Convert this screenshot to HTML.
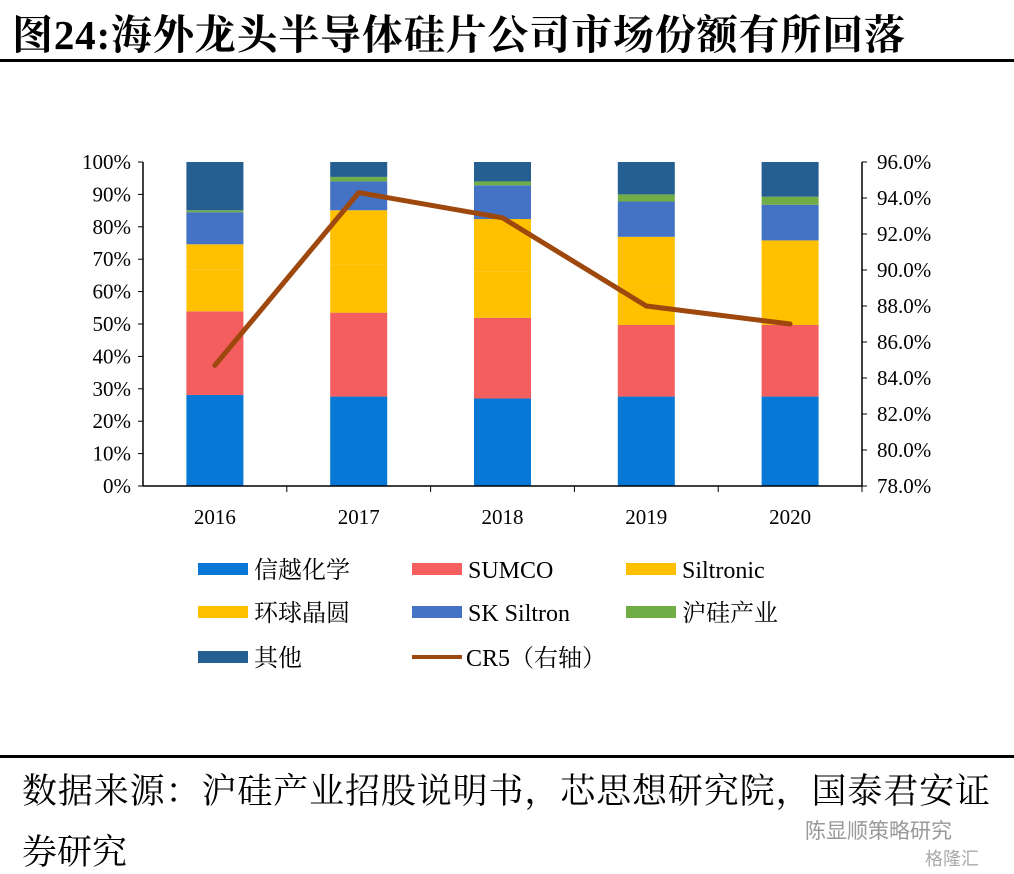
<!DOCTYPE html>
<html><head><meta charset="utf-8"><style>
body{margin:0;background:#fff;width:1014px;height:874px;overflow:hidden;font-family:"Liberation Serif","Noto Serif CJK SC",serif;}
svg{display:block}
</style></head><body>
<svg id="chart" width="1014" height="874">
<text x="12" y="49" font-size="41" font-weight="bold" fill="#000" textLength="893" lengthAdjust="spacing" font-family="Liberation Serif, Noto Serif CJK SC, serif">图24:海外龙头半导体硅片公司市场份额有所回落</text>
<rect x="0" y="59" width="1014" height="3" fill="#000"/>
<g id="plot"></g>
<g id="legend"></g>
<rect x="0" y="755" width="1014" height="3" fill="#000"/>
<text x="22" y="803" font-size="35" fill="#000" textLength="968" lengthAdjust="spacing" font-family="Liberation Serif, Noto Serif CJK SC, serif">数据来源：沪硅产业招股说明书，芯思想研究院，国泰君安证</text>
<text x="22" y="864" font-size="35" fill="#000" font-family="Liberation Serif, Noto Serif CJK SC, serif">券研究</text>
<text x="805" y="838" font-size="21" fill="#999" font-family="Liberation Sans, Noto Sans CJK SC, sans-serif">陈显顺策略研究</text>
<text x="925" y="865" font-size="18" fill="#aaa" font-family="Liberation Sans, Noto Sans CJK SC, sans-serif">格隆汇</text>
</svg>
<script>
const years=["2016","2017","2018","2019","2020"];
const shinEtsu=[28.1,27.6,27.0,27.6,27.6];
const sumco=[25.8,25.9,24.9,22.1,22.1];
const siltronic=[13.0,14.9,14.4,12.0,11.4];
const globalWafers=[7.7,16.7,16.1,15.2,14.7];
const skSiltron=[9.9,8.9,10.4,10.9,11.0];
const nsig=[0.6,1.4,1.2,2.2,2.5];
const others=[14.9,4.6,6.0,10.0,10.7];
const cr5=[84.7,94.3,92.9,88.0,87.0];
const leftTicks=["0%","10%","20%","30%","40%","50%","60%","70%","80%","90%","100%"];
const rightTicks=["78.0%","80.0%","82.0%","84.0%","86.0%","88.0%","90.0%","92.0%","94.0%","96.0%"];
const NS="http://www.w3.org/2000/svg";
const plot=document.getElementById('plot');
const X0=143,X1=862,Y0=486,Y1=162;
const band=(X1-X0)/years.length;
const xc=i=>X0+band*(i+0.5);
const yL=v=>Y0-(v/100)*(Y0-Y1);
const yR=v=>Y0-((v-78)/18)*(Y0-Y1);
function mk(tag,at,parent){const e=document.createElementNS(NS,tag);for(const k in at)e.setAttribute(k,at[k]);(parent||plot).appendChild(e);return e;}
const series=[["shin-etsu",shinEtsu,"#0778d6"],["sumco",sumco,"#f45e5e"],["siltronic",siltronic,"#ffc000"],["global-wafers",globalWafers,"#ffc000"],["sk-siltron",skSiltron,"#4472c4"],["nsig",nsig,"#70ad47"],["others",others,"#255e91"]];
const bw=57;
years.forEach((yr,i)=>{let acc=0;series.forEach(s=>{const v=s[1][i];const r=mk('rect',{x:xc(i)-bw/2,y:yL(acc+v),width:bw,height:yL(acc)-yL(acc+v),fill:s[2]});


acc+=v;});});
let a=mk('line',{x1:X0,y1:Y1,x2:X0,y2:Y0,stroke:'#000','stroke-width':1.5});

a=mk('line',{x1:X1,y1:Y1,x2:X1,y2:Y0,stroke:'#000','stroke-width':1.5});

a=mk('line',{x1:X0,y1:Y0,x2:X1,y2:Y0,stroke:'#000','stroke-width':1.5});

leftTicks.forEach((t,i)=>{const y=yL(i*10);mk('line',{x1:X0-5,y1:y,x2:X0,y2:y,stroke:'#000'});
const tx=mk('text',{x:X0-12,y:y+7,'text-anchor':'end','font-size':21});tx.textContent=t;
});
rightTicks.forEach((t,i)=>{const y=yR(78+i*2);mk('line',{x1:X1,y1:y,x2:X1+5,y2:y,stroke:'#000'});
const tx=mk('text',{x:X1+15,y:y+7,'font-size':21});tx.textContent=t;
});
years.forEach((yr,i)=>{mk('line',{x1:X0+band*(i+1),y1:Y0,x2:X0+band*(i+1),y2:Y0+6,stroke:'#000'});
const tx=mk('text',{x:xc(i),y:Y0+38,'text-anchor':'middle','font-size':21});tx.textContent=yr;
});
const pl=mk('polyline',{points:cr5.map((v,i)=>xc(i)+','+yR(v)).join(' '),fill:'none',stroke:'#9e480e','stroke-width':5,'stroke-linejoin':'round','stroke-linecap':'round'});

const lg=document.getElementById('legend');
const items=[["信越化学","#0778d6",0,0],["SUMCO","#f45e5e",1,0],["Siltronic","#ffc000",2,0],["环球晶圆","#ffc000",0,1],["SK Siltron","#4472c4",1,1],["沪硅产业","#70ad47",2,1],["其他","#255e91",0,2]];
const cx=[198,412,626],ry=[569,612,657];
items.forEach(it=>{const g=mk('g',{},lg);

mk('rect',{x:cx[it[2]],y:ry[it[3]]-6,width:50,height:12,fill:it[1]},g);
const t=mk('text',{x:cx[it[2]]+56,y:ry[it[3]]+9,'font-size':24},g);t.textContent=it[0];});
const g=mk('g',{},lg);

mk('line',{x1:412,y1:657,x2:462,y2:657,stroke:'#9e480e','stroke-width':4},g);
const t=mk('text',{x:466,y:666,'font-size':24},g);t.textContent="CR5（右轴）";
</script>
</body></html>
